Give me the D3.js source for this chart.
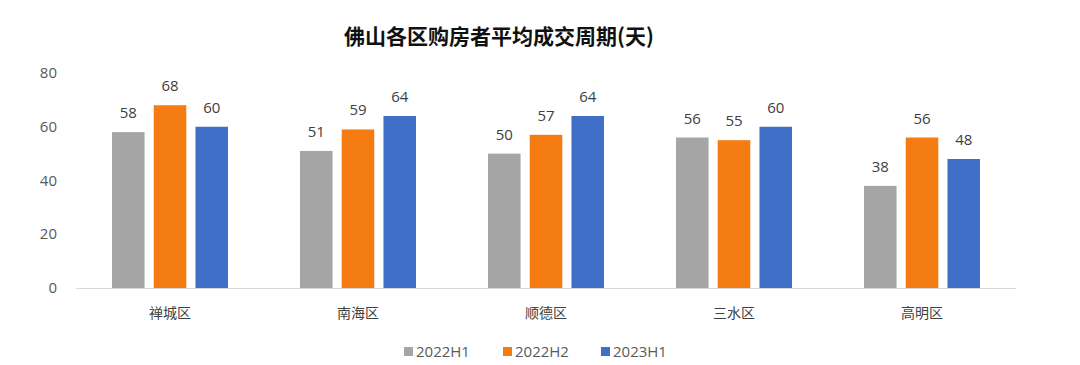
<!DOCTYPE html>
<html><head><meta charset="utf-8">
<script src="https://cdn.jsdelivr.net/npm/d3@7"></script>
<style>body{margin:0;background:#fff;}svg{display:block;font-family:"Noto Sans CJK SC","Open Sans",sans-serif;}</style>
</head><body><svg id="c" width="1080" height="365"></svg>
<script>
const categories = ["禅城区","南海区","顺德区","三水区","高明区"];
const seriesNames = ["2022H1","2022H2","2023H1"];
const s2022H1 = [58,51,50,56,38];
const s2022H2 = [68,59,57,55,56];
const s2023H1 = [60,64,64,60,48];
const yTicks = [0,20,40,60,80];
const colors = ["#a5a5a5","#f47c12","#3f6fc6"];
const title = "佛山各区购房者平均成交周期(天)";

const seriesVals = [s2022H1,s2022H2,s2023H1];
const svg = d3.select("#c");
const x0 = d3.scaleBand().domain(categories).range([76,1016]).paddingInner(0).paddingOuter(0);
const groupW = 116;
const x1 = d3.scaleBand().domain(seriesNames).range([0,groupW]).paddingInner(0.22);
const y = d3.scaleLinear().domain([0,80]).range([288,73]);

svg.append("text").attr("x",499).attr("y",44).attr("text-anchor","middle")
  .attr("font-size",21).attr("font-weight","bold").attr("fill","#111").text(title);

svg.selectAll(".yt").data(yTicks).join("text").attr("x",57).attr("y",d=>y(d)+5)
  .attr("text-anchor","end").attr("font-size",15).attr("fill","#595959")
  .attr("font-family","'Open Sans',sans-serif").text(d=>d);

svg.append("line").attr("x1",76).attr("x2",1016).attr("y1",288.5).attr("y2",288.5)
  .attr("stroke","#d9d9d9").attr("stroke-width",1);

categories.forEach((c,i)=>{
  const g = svg.append("g").attr("transform",`translate(${x0(c)+x0.bandwidth()/2-groupW/2},0)`);
  seriesNames.forEach((s,j)=>{
    const v = seriesVals[j][i];
    g.append("rect").attr("x",x1(s)).attr("y",y(v)).attr("width",x1.bandwidth())
      .attr("height",y(0)-y(v)).attr("fill",colors[j]);
    g.append("text").attr("x",x1(s)+x1.bandwidth()/2).attr("y",y(v)-14)
      .attr("text-anchor","middle").attr("font-size",15).attr("fill","#404040")
      .attr("font-family","'Open Sans',sans-serif").text(v);
  });
  svg.append("text").attr("x",x0(c)+x0.bandwidth()/2).attr("y",318).attr("text-anchor","middle")
    .attr("font-size",14).attr("fill","#404040").text(c);
});

const legX = [404,503,601];
seriesNames.forEach((s,j)=>{
  svg.append("rect").attr("x",legX[j]).attr("y",347).attr("width",9).attr("height",9).attr("fill",colors[j]);
  svg.append("text").attr("x",legX[j]+12).attr("y",357).attr("font-size",15).attr("fill","#595959")
    .attr("font-family","'Open Sans',sans-serif").text(s);
});
</script></body></html>
